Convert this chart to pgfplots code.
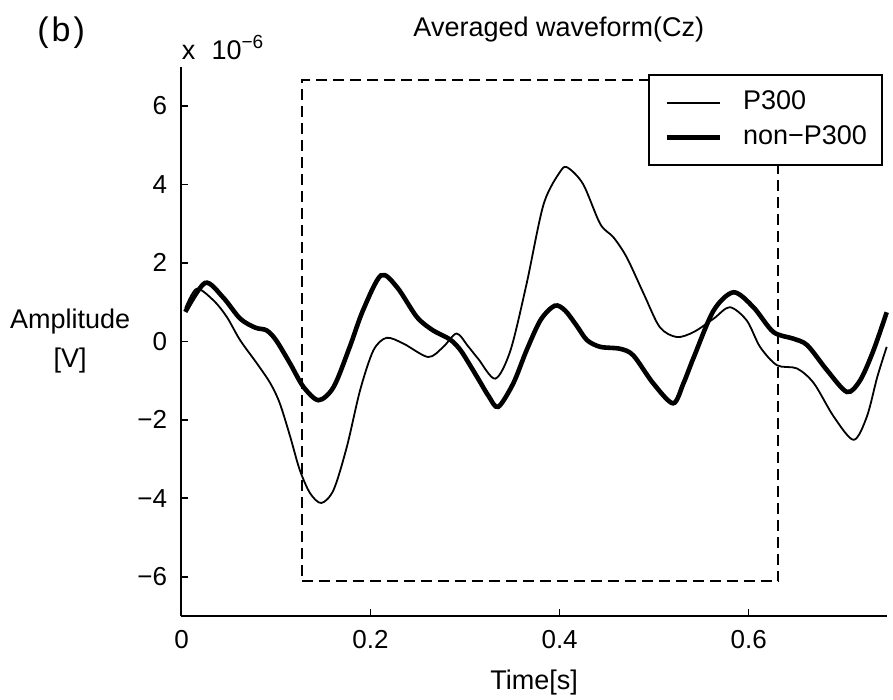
\documentclass[border=0pt]{standalone}
\usepackage{fontspec}
\setmainfont{Liberation Sans}
\usepackage{pgfplots}
\usepackage{pgfplotstable}
\pgfplotsset{compat=1.18}

\pgfplotstableread{
t v
0.004 0.85
0.016 1.34
0.034 1.04
0.048 0.62
0.062 0.03
0.080 -0.57
0.094 -1.07
0.104 -1.58
0.115 -2.43
0.125 -3.27
0.136 -3.87
0.148 -4.12
0.161 -3.78
0.175 -2.68
0.189 -1.24
0.203 -0.23
0.217 0.09
0.235 -0.06
0.261 -0.40
0.277 -0.14
0.291 0.20
0.303 -0.12
0.314 -0.45
0.332 -0.95
0.348 -0.23
0.365 1.46
0.383 3.49
0.401 4.34
0.409 4.42
0.425 4.00
0.443 2.99
0.457 2.65
0.471 2.14
0.489 1.21
0.506 0.36
0.524 0.11
0.542 0.24
0.563 0.58
0.580 0.87
0.598 0.53
0.612 -0.14
0.630 -0.61
0.651 -0.69
0.669 -1.07
0.690 -1.92
0.711 -2.51
0.725 -1.92
0.736 -0.91
0.746 -0.14
}\ptable

\pgfplotstableread{
t v
0.004 0.75
0.025 1.49
0.044 1.12
0.062 0.58
0.078 0.35
0.090 0.28
0.100 0.03
0.115 -0.57
0.129 -1.16
0.145 -1.50
0.161 -1.16
0.178 -0.14
0.192 0.79
0.211 1.68
0.228 1.38
0.249 0.62
0.266 0.28
0.284 0.05
0.295 -0.22
0.305 -0.60
0.315 -1.00
0.325 -1.40
0.335 -1.67
0.351 -1.07
0.365 -0.23
0.380 0.55
0.395 0.91
0.406 0.78
0.418 0.40
0.429 0.03
0.443 -0.14
0.464 -0.19
0.478 -0.36
0.499 -1.07
0.520 -1.58
0.531 -1.07
0.542 -0.40
0.563 0.79
0.584 1.25
0.605 0.87
0.626 0.24
0.647 0.07
0.662 -0.10
0.683 -0.74
0.704 -1.29
0.718 -0.99
0.732 -0.23
0.746 0.74
}\ntable

\begin{document}
\begin{tikzpicture}[font=\fontsize{13.5bp}{16bp}\selectfont]
\begin{axis}[
  name=ax,
  scale only axis,
  width=352.6bp, height=274.65bp,
  xmin=0, xmax=0.746, ymin=-7, ymax=7,
  axis lines*=left,
  axis line style={line width=1bp, black},
  tick style={line width=0.8bp, black},
  tick align=inside,
  major tick length=3.5bp,
  xtick={0,0.2,0.4,0.6}, xticklabels={0,0.2,0.4,0.6},
  ytick={-6,-4,-2,0,2,4,6}, yticklabels={−6,−4,−2,0,2,4,6},
  xticklabel style={inner sep=0pt, anchor=north, yshift=-7bp, font=\fontsize{13bp}{15bp}\selectfont},
  yticklabel style={inner sep=0pt, anchor=east, xshift=-7bp, font=\fontsize{13bp}{15bp}\selectfont},
  clip=false,
  title={Averaged waveform(Cz)},
  every axis title/.style={at={(axis description cs:0.535,1)}, anchor=base, yshift=14.85bp, inner sep=0pt, font=\fontsize{13.5bp}{16bp}\selectfont},
  xlabel={Time[s]},
  every axis x label/.style={at={(axis description cs:0.5,0)}, anchor=base, yshift=-36.5bp, inner sep=0pt, font=\fontsize{13.5bp}{16bp}\selectfont},
  ylabel={Amplitude\\{[V]}},
  every axis y label/.style={at={(axis description cs:-0.158,0.5)}, anchor=center, align=center, inner sep=0pt, font=\fontsize{13.5bp}{19.5bp}\selectfont},
  legend cell align=left,
  legend image code/.code={\draw[#1] (0bp,0bp) -- (26.5bp,0bp);},
  legend style={at={(axis description cs:0.9947,0.9867)}, anchor=north east, draw=black, line width=1bp, fill=white,
    inner xsep=7.5bp, inner ysep=7.6bp, row sep=5.1bp, column sep=10.5bp,
    nodes={inner sep=0pt, text height=9.7bp, text depth=2.7bp},
    font=\fontsize{13.5bp}{16bp}\selectfont},
]
\addplot[black, line width=0.9bp, smooth] table[x=t, y=v] {\ptable};
\addplot[black, line width=2.3bp, smooth] table[x=t, y=v] {\ntable};
\addplot[black, line width=1bp, dash pattern=on 5.5bp off 3bp, forget plot] coordinates {(0.127,-6.11) (0.631,-6.11) (0.631,6.65) (0.127,6.65) (0.127,-6.11)};
\legend{P300, non−P300}
\node[anchor=base west, inner sep=0pt, yshift=3.35bp] at (axis description cs:0,1) {x\hspace{0.6em}10\raisebox{5.5bp}{\fontsize{9.5bp}{9.5bp}\selectfont −6}};
\node[anchor=base west, inner sep=0pt, font=\fontsize{17bp}{18bp}\selectfont] at (axis description cs:-0.2049,1.045) {(\kern1.5bp b\kern1.5bp)};
\end{axis}
\pgfresetboundingbox
\path[use as bounding box] ([shift={(-90.75bp,-42bp)}]ax.south west) rectangle ([shift={(3.15bp,33.35bp)}]ax.north east);
\end{tikzpicture}
\end{document}
